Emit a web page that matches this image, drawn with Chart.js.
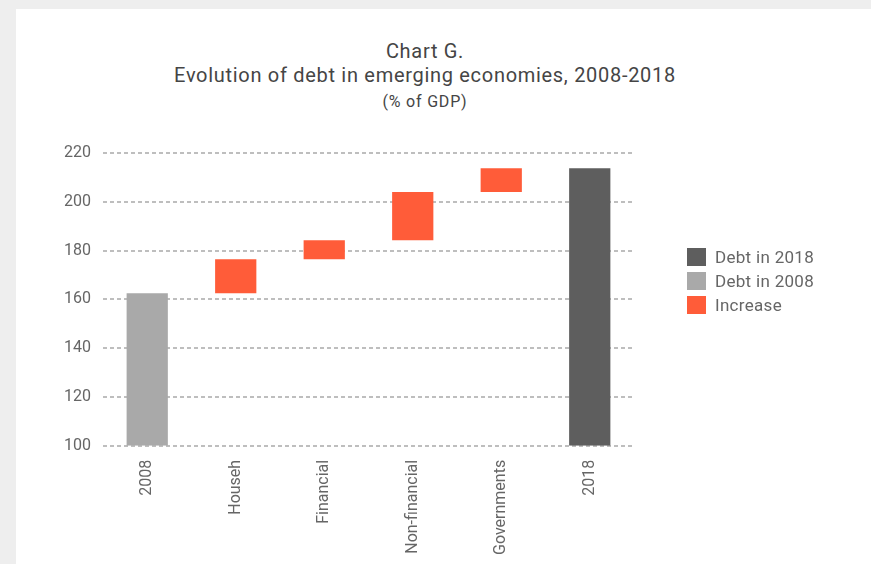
<!DOCTYPE html>
<html>
<head>
    <title>Chart G. Evolution of debt in emerging economies</title>
    <script src="https://cdn.jsdelivr.net/npm/chart.js"></script>
    <style>
        body {
            margin: 0;
            padding: 0;
            background-color: #eeeeee;
            font-family: 'Roboto', sans-serif;
            overflow: hidden;
        }

        #panel {
            position: absolute;
            left: 16px;
            top: 9px;
            width: 900px;
            height: 600px;
            background-color: white;
        }

        #chart-title {
            position: absolute;
            left: 0;
            top: 30px;
            width: 818px;
            text-align: center;
            color: #454545;
            font-size: 20px;
            letter-spacing: 0.7px;
            line-height: 24px;
        }

        #chart-title .sub {
            font-size: 16px;
            letter-spacing: 0.8px;
            line-height: 30px;
        }

        #chart-box {
            position: absolute;
            left: 0;
            top: 0;
            width: 818px;
            height: 555px;
        }

        #legend {
            position: absolute;
            left: 671px;
            top: 236px;
            font-size: 17px;
            letter-spacing: 0.3px;
            color: #666;
        }

        .legend-item {
            display: flex;
            align-items: center;
            height: 24px;
        }

        .legend-swatch {
            width: 19px;
            height: 18px;
            margin-right: 9px;
        }
    </style>
</head>
<body>
    <div id="panel">
        <div id="chart-title">
            <div>Chart G.</div>
            <div>Evolution of debt in emerging economies, 2008-2018</div>
            <div class="sub">(% of GDP)</div>
        </div>
        <div id="chart-box"><canvas id="debtChart"></canvas></div>
        <div id="legend"></div>
    </div>

    <script>
        const categories = ['2008', 'Househ', 'Financial', 'Non-financial', 'Governments', '2018'];
        // debt level (% of GDP) after each step of the waterfall
        const debt2008 = 162.5;
        const steps = [176.5, 184.3, 204.0, 213.8]; // Househ, Financial, Non-financial, Governments
        const debt2018 = 213.8;
        const axisFloor = 100;
        const yTicks = [100, 120, 140, 160, 180, 200, 220];

        const colors = {
            d2018: '#5e5e5e',
            d2008: '#a9a9a9',
            increase: '#ff5c39'
        };

        // floating bars: each increase runs from the previous level to the new one
        const increaseBars = [null];
        let prev = debt2008;
        steps.forEach(level => {
            increaseBars.push([prev, level]);
            prev = level;
        });
        increaseBars.push(null);

        const bars2008 = categories.map((c, i) => i === 0 ? [axisFloor, debt2008] : null);
        const bars2018 = categories.map((c, i) => i === categories.length - 1 ? [axisFloor, debt2018] : null);

        const ctx = document.getElementById('debtChart').getContext('2d');
        const chart = new Chart(ctx, {
            type: 'bar',
            data: {
                labels: categories,
                datasets: [
                    { label: 'Debt in 2018', data: bars2018, backgroundColor: colors.d2018 },
                    { label: 'Debt in 2008', data: bars2008, backgroundColor: colors.d2008 },
                    { label: 'Increase', data: increaseBars, backgroundColor: colors.increase }
                ]
            },
            options: {
                responsive: true,
                maintainAspectRatio: false,
                animation: false,
                datasets: {
                    bar: {
                        grouped: false,
                        categoryPercentage: 1,
                        barPercentage: 0.466
                    }
                },
                layout: {
                    padding: { left: 36, right: 200, top: 144, bottom: 3 }
                },
                plugins: {
                    legend: { display: false },
                    tooltip: { enabled: false }
                },
                scales: {
                    x: {
                        grid: { display: false },
                        border: { display: false },
                        ticks: {
                            color: '#666',
                            font: { family: 'Roboto', size: 16 },
                            minRotation: 90,
                            maxRotation: 90,
                            padding: 6
                        }
                    },
                    y: {
                        min: 100,
                        max: 220,
                        afterBuildTicks: axis => {
                            axis.ticks = yTicks.map(v => ({ value: v }));
                        },
                        border: { display: false, dash: [4, 3] },
                        grid: {
                            color: '#bebebe',
                            lineWidth: 2,
                            drawTicks: false
                        },
                        ticks: {
                            color: '#666',
                            font: { family: 'Roboto', size: 16 },
                            padding: 12
                        }
                    }
                }
            }
        });

        // legend drawn beside the chart from the dataset colours
        const legendEl = document.getElementById('legend');
        chart.data.datasets.forEach(ds => {
            const item = document.createElement('div');
            item.className = 'legend-item';
            const sw = document.createElement('span');
            sw.className = 'legend-swatch';
            sw.style.backgroundColor = ds.backgroundColor;
            const txt = document.createElement('span');
            txt.textContent = ds.label;
            item.appendChild(sw);
            item.appendChild(txt);
            legendEl.appendChild(item);
        });
    </script>
</body>
</html>
